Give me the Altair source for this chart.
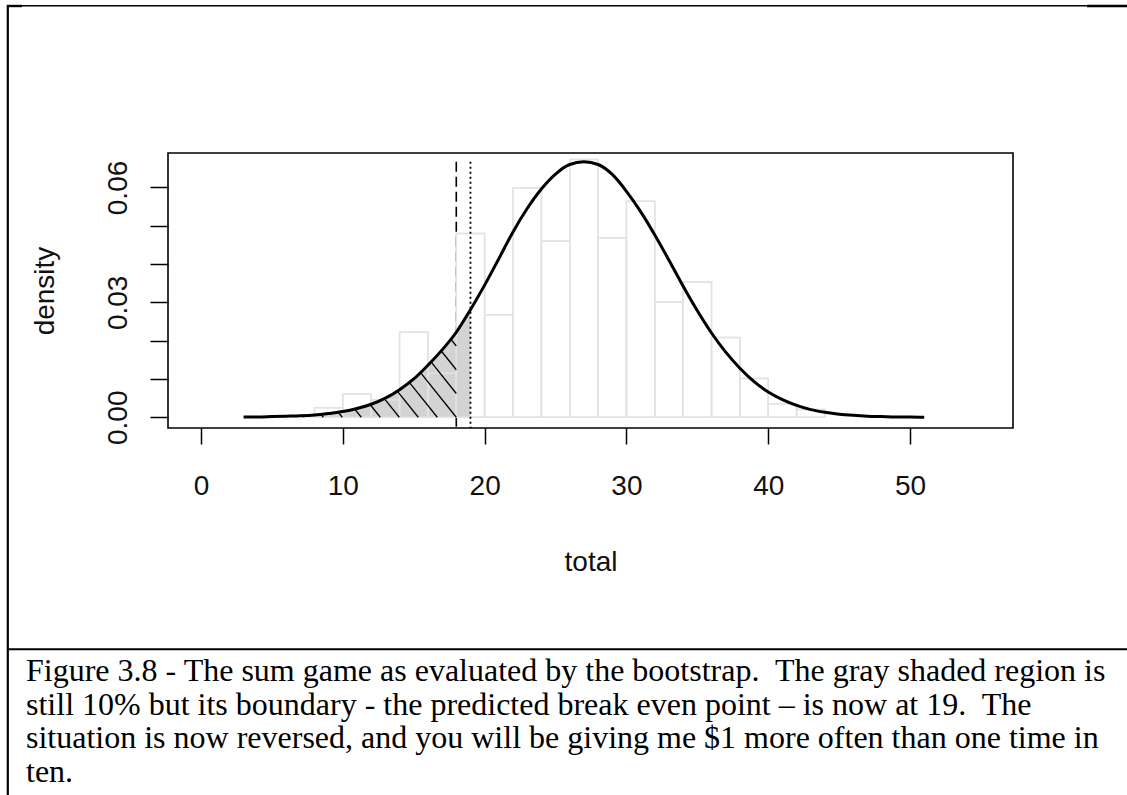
import altair as alt
import numpy as np
import pandas as pd

# ---- data -------------------------------------------------------------
# bootstrap histogram of the totals, bins of width 2 (density scale)
bin_left = [8, 10, 12, 14, 16, 18, 20, 22, 24, 26, 28, 30, 32, 34, 36, 38, 40, 42]
bin_density = [0.0025, 0.0061, 0.0046, 0.0222, 0.0115, 0.0480, 0.0268, 0.0599, 0.0460,
               0.0673, 0.0469, 0.0564, 0.0301, 0.0353, 0.0208, 0.0101, 0.0035, 0.0020]
bin_width = 2

# smooth density curve over the totals
curve_x = list(range(3, 52))
curve_y = [0.0001, 0.0001, 0.0002, 0.0003, 0.0004, 0.0006, 0.0010, 0.0015, 0.0023, 0.0034,
           0.0050, 0.0072, 0.0100, 0.0136, 0.0176, 0.0222, 0.0281, 0.0345, 0.0414, 0.0484,
           0.0545, 0.0596, 0.0635, 0.0660, 0.0667, 0.0660, 0.0634, 0.0590, 0.0537, 0.0476,
           0.0410, 0.0342, 0.0278, 0.0220, 0.0170, 0.0128, 0.0093, 0.0066, 0.0046, 0.0031,
           0.0020, 0.0013, 0.0008, 0.0005, 0.0003, 0.0002, 0.0001, 0.0001, 0.0000]

observed_total = 18      # dashed line
break_even = 19          # dotted line, edge of the shaded 10% tail

x_ticks = [0, 10, 20, 30, 40, 50]
y_ticks = [0.00, 0.01, 0.02, 0.03, 0.04, 0.05, 0.06]
y_labels = ["0.00", "0.03", "0.06"]

caption_lines = [
    "Figure 3.8 - The sum game as evaluated by the bootstrap.\u00a0 The gray shaded region is",
    "still 10% but its boundary - the predicted break even point \u2013 is now at 19.\u00a0 The",
    "situation is now reversed, and you will be giving me $1 more often than one time in",
    "ten.",
]

# ---- layout -------------------------------------------------------------
W, H = 845, 275
PAD_L, PAD_T = 168, 153
X_DOM = [-2.33, 57.26]
Y_DOM = [-0.0028, 0.0690]
AXIS_FONT = "Liberation Sans"

xs = alt.Scale(domain=X_DOM, nice=False, zero=False)
ys = alt.Scale(domain=Y_DOM, nice=False, zero=False)

x_axis = alt.Axis(values=x_ticks, format="d", grid=False, domain=False,
                  tickSize=16, tickWidth=1.5, tickColor="black",
                  labelPadding=28, labelFontSize=28, labelFont=AXIS_FONT,
                  labelColor="#111111", titleFontSize=28, titleFont=AXIS_FONT,
                  titleFontWeight="normal", titleColor="#111111", titlePadding=48)
y_axis = alt.Axis(values=y_ticks, format=".2f", grid=False, domain=False,
                  labelExpr="indexof(%s, datum.label) >= 0 ? datum.label : ''" % str(y_labels),
                  tickSize=18, tickWidth=1.5, tickColor="black",
                  labelAngle=270, labelAlign="center", labelBaseline="bottom",
                  labelPadding=18, labelFontSize=28, labelFont=AXIS_FONT,
                  labelColor="#111111", titleFontSize=28, titleFont=AXIS_FONT,
                  titleFontWeight="normal", titleColor="#111111", titlePadding=45)

hist = pd.DataFrame({
    "lo": bin_left,
    "hi": [b + bin_width for b in bin_left],
    "density": bin_density,
    "base": 0.0,
})
curve = pd.DataFrame({"total": curve_x, "density": curve_y, "base": 0.0})
tail = curve[curve["total"] <= break_even]
peak = max(curve_y)

# ---- hatching of the tail below the observed total ----------------------
def px(v):
    return (np.asarray(v) - X_DOM[0]) / (X_DOM[1] - X_DOM[0]) * W

def py(d):
    return H - (np.asarray(d) - Y_DOM[0]) / (Y_DOM[1] - Y_DOM[0]) * H

def inv_px(p):
    return X_DOM[0] + np.asarray(p) / W * (X_DOM[1] - X_DOM[0])

def inv_py(p):
    return Y_DOM[0] + (H - np.asarray(p)) / H * (Y_DOM[1] - Y_DOM[0])

slope = 1.25          # pixels up per pixel left
spacing = 19.0        # horizontal spacing at the baseline
t = np.arange(0, 600, 0.25)
segs = []
x_right = px(observed_total)
for j in range(-12, 30):
    cx = x_right - j * spacing
    lx = cx - t
    ly = py(0.0) - slope * t
    v = inv_px(lx)
    d = inv_py(ly)
    f = np.interp(v, curve_x, curve_y)
    inside = (v >= curve_x[0]) & (v <= observed_total) & (d <= f) & (d >= 0)
    if inside.sum() < 3:
        continue
    idx = np.where(inside)[0]
    a, b = idx[0], idx[-1]
    segs.append({"lo": float(v[a]), "density": float(d[a]), "hi": float(v[b]), "base": float(d[b])})
hatch = pd.DataFrame(segs)

vlines = pd.DataFrame({"lo": [observed_total, break_even], "density": [peak] * 2,
                       "base": [Y_DOM[0]] * 2})

# every data layer uses the same field names, so a single encoding serves all
enc = dict(
    x=alt.X("lo:Q", scale=xs, title="total", axis=x_axis),
    y=alt.Y("density:Q", scale=ys, title="density", axis=y_axis),
)

# ---- layers ---------------------------------------------------------------
dashed = alt.Chart(vlines.iloc[[0]]).mark_rule(
    color="black", strokeWidth=1.6, strokeDash=[10, 5]
).encode(y2="base:Q", **enc)

bars_fill = alt.Chart(hist).mark_rect(fill="white", stroke="#e3e3e3", strokeWidth=1.5).encode(
    x2="hi:Q", y2="base:Q", **enc)

shade = alt.Chart(tail.rename(columns={"total": "lo"})).mark_area(
    color="#d3d3d3", interpolate="monotone"
).encode(y2="base:Q", **enc)

bars_edge = alt.Chart(hist).mark_rect(fillOpacity=0, stroke="#e3e3e3", strokeWidth=1.5).encode(
    x2="hi:Q", y2="base:Q", **enc)

hatch_lines = alt.Chart(hatch).mark_rule(color="black", strokeWidth=1.3).encode(
    x2="hi:Q", y2="base:Q", **enc)

line = alt.Chart(curve.rename(columns={"total": "lo"})).mark_line(
    color="black", strokeWidth=3.0, interpolate="monotone"
).encode(**enc)

dotted = alt.Chart(vlines.iloc[[1]]).mark_rule(
    color="black", strokeWidth=1.8, strokeDash=[2, 3]
).encode(y2="base:Q", **enc)

# ---- page frame and caption (pixel offsets from the plot origin) ----------
def hrule(y, x0, x1, w):
    return alt.Chart(pd.DataFrame({"k": [0]})).mark_rule(color="black", strokeWidth=w).encode(
        x=alt.value(x0 - PAD_L), x2=alt.value(x1 - PAD_L), y=alt.value(y - PAD_T))

def vrule(x, y0, y1, w):
    return alt.Chart(pd.DataFrame({"k": [0]})).mark_rule(color="black", strokeWidth=w).encode(
        x=alt.value(x - PAD_L), y=alt.value(y0 - PAD_T), y2=alt.value(y1 - PAD_T))

frame = [
    hrule(5.8, 7, 1127, 1.5),
    hrule(6.0, 7, 22, 2.4),
    hrule(6.0, 1087, 1127, 2.4),
    vrule(7.8, 5, 795, 2.2),
    hrule(649.2, 7, 1127, 2.0),
]

caption = []
for i, txt in enumerate(caption_lines):
    caption.append(
        alt.Chart(pd.DataFrame({"k": [0]})).mark_text(
            align="left", baseline="alphabetic", font="Liberation Serif",
            fontSize=32, color="black"
        ).encode(
            x=alt.value(26 - PAD_L),
            y=alt.value(681 + i * 33.6 - PAD_T),
            text=alt.value(txt),
        )
    )

chart = alt.layer(
    dashed, bars_fill, shade, bars_edge, hatch_lines, line, dotted, *frame, *caption
).properties(
    width=W, height=H,
    autosize=alt.AutoSizeParams(type="none"),
    padding={"left": PAD_L, "top": PAD_T, "right": 1127 - PAD_L - W, "bottom": 795 - PAD_T - H},
    background="white",
).configure_view(stroke="black", strokeWidth=1.6)

chart.save("out.html", embed_options={"renderer": "svg", "actions": False})
